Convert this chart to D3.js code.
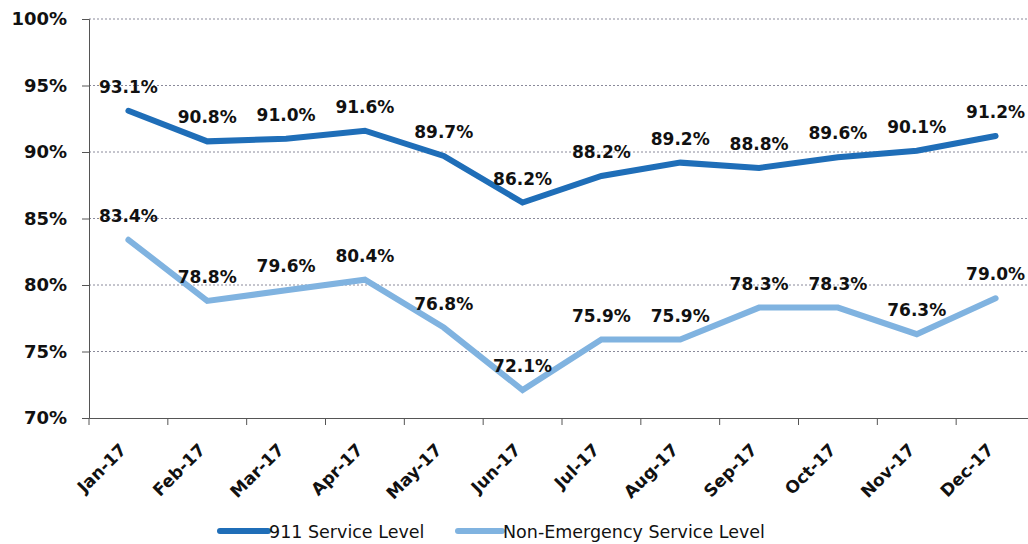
<!DOCTYPE html>
<html>
<head>
<meta charset="utf-8">
<script src="https://cdn.jsdelivr.net/npm/d3@7"></script>
<style>
  html, body { margin: 0; padding: 0; background: #ffffff; }
  svg { display: block; }
</style>
</head>
<body>
<svg id="chart" width="1028" height="544"></svg>
<script>
const months = ["Jan-17","Feb-17","Mar-17","Apr-17","May-17","Jun-17","Jul-17","Aug-17","Sep-17","Oct-17","Nov-17","Dec-17"];
const service911 = [93.1, 90.8, 91.0, 91.6, 89.7, 86.2, 88.2, 89.2, 88.8, 89.6, 90.1, 91.2];
const nonEmergency = [83.4, 78.8, 79.6, 80.4, 76.8, 72.1, 75.9, 75.9, 78.3, 78.3, 76.3, 79.0];
const yTicks = [70, 75, 80, 85, 90, 95, 100];
const seriesNames = ["911 Service Level", "Non-Emergency Service Level"];
const seriesColors = ["#1f6eb8", "#80b3e0"];

const svg = d3.select("#chart");
const mLeft = 89, mRight = 1035, mTop = 19, mBottom = 418;

const x = d3.scaleBand().domain(months).range([mLeft, mRight]);
const y = d3.scaleLinear().domain([70, 100]).range([mBottom, mTop]);

// gridlines
svg.append("g").selectAll("line").data(yTicks.filter(d => d > 70)).join("line")
  .attr("x1", mLeft).attr("x2", mRight)
  .attr("y1", d => y(d)).attr("y2", d => y(d))
  .attr("stroke", "#8a8a9a").attr("stroke-width", 1)
  .attr("stroke-dasharray", "2,2");

// y axis
const yAxis = d3.axisLeft(y).tickValues(yTicks).tickSize(7).tickFormat(d => d + "%");
const gy = svg.append("g").attr("transform", `translate(${mLeft},0)`).call(yAxis);
gy.select(".domain").attr("stroke", "#555");
gy.selectAll(".tick line").attr("stroke", "#555");
gy.selectAll(".tick text")
  .attr("x", -22)
  .attr("font-family", "DejaVu Sans, Verdana, sans-serif")
  .attr("font-weight", "bold").attr("font-size", 18).attr("fill", "#111");

// x axis
const xAxis = d3.axisBottom(x).tickSize(0).tickFormat("");
const gx = svg.append("g").attr("transform", `translate(0,${mBottom})`).call(xAxis);
gx.select(".domain").attr("stroke", "#555");
svg.append("g").selectAll("line").data(months).join("line")
  .attr("x1", d => x(d)).attr("x2", d => x(d))
  .attr("y1", mBottom).attr("y2", mBottom + 7)
  .attr("stroke", "#555");

svg.append("g").selectAll("text").data(months).join("text")
  .attr("transform", d => `translate(${x(d) + x.bandwidth() / 2 - 1},${mBottom + 33}) rotate(-45)`)
  .attr("text-anchor", "end")
  .attr("font-family", "DejaVu Sans, Verdana, sans-serif")
  .attr("font-weight", "bold").attr("font-size", 17).attr("fill", "#111")
  .text(d => d);

const line = d3.line().x((d, i) => x(months[i]) + x.bandwidth() / 2).y(d => y(d));

[service911, nonEmergency].forEach((data, si) => {
  svg.append("path").datum(data)
    .attr("d", line)
    .attr("fill", "none")
    .attr("stroke", seriesColors[si])
    .attr("stroke-width", 6)
    .attr("stroke-linejoin", "miter")
    .attr("stroke-linecap", "round");
  svg.append("g").selectAll("text").data(data).join("text")
    .attr("x", (d, i) => x(months[i]) + x.bandwidth() / 2)
    .attr("y", d => y(d) - 18)
    .attr("text-anchor", "middle")
    .attr("font-family", "DejaVu Sans, Verdana, sans-serif")
    .attr("font-weight", "bold").attr("font-size", 17).attr("fill", "#111")
    .text(d => d.toFixed(1) + "%");
});

// legend
const legendItems = [
  { x1: 220, x2: 268, tx: 269 },
  { x1: 458, x2: 502, tx: 503 }
];
legendItems.forEach((it, i) => {
  svg.append("line").attr("x1", it.x1).attr("x2", it.x2).attr("y1", 531).attr("y2", 531)
    .attr("stroke", seriesColors[i]).attr("stroke-width", 6).attr("stroke-linecap", "round");
  svg.append("text").attr("x", it.tx).attr("y", 538)
    .attr("font-family", "DejaVu Sans, Verdana, sans-serif")
    .attr("font-size", 17.5).attr("fill", "#111")
    .text(seriesNames[i]);
});
</script>
</body>
</html>
